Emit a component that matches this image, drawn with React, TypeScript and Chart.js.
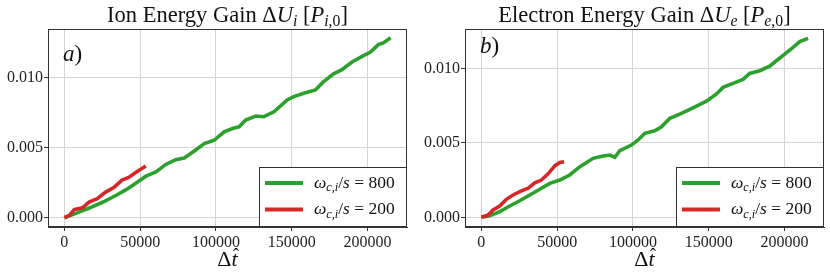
import React, { useEffect, useRef } from "react";
import { Chart, registerables } from "chart.js";

Chart.register(...registerables);

// ---------- data ----------
const xTicks = [0, 50000, 100000, 150000, 200000];
const yTicks = [0, 0.005, 0.01];

const ionX800 = [0, 8000, 16800, 25500, 34200, 40800, 47300, 53800, 60400, 66900, 73400, 79000, 85700, 92300, 98800, 105400, 110900, 115200, 119600, 126200, 131600, 138200, 147000, 151300, 157900, 165600, 171000, 177600, 183100, 189700, 197300, 201700, 207100, 210400, 215200];
const ionY800 = [0, 0.00033, 0.00071, 0.00112, 0.0016, 0.002, 0.00248, 0.00296, 0.00326, 0.0038, 0.00414, 0.00425, 0.00476, 0.00528, 0.00552, 0.00612, 0.00636, 0.00648, 0.00696, 0.00725, 0.0072, 0.00755, 0.00839, 0.00863, 0.00887, 0.00911, 0.0097, 0.01026, 0.01055, 0.0111, 0.01155, 0.01179, 0.01234, 0.01246, 0.01282];
const ionX200 = [0, 3300, 6500, 11900, 16300, 21700, 27200, 32600, 38000, 42400, 47800, 53700];
const ionY200 = [0, 0.00017, 0.00058, 0.00071, 0.00112, 0.00136, 0.00183, 0.00215, 0.00268, 0.00287, 0.00327, 0.00368];

const elX800 = [0, 5500, 12100, 18700, 25300, 31900, 38500, 45100, 51700, 58300, 65000, 73700, 80300, 84700, 88000, 91300, 99000, 103400, 107800, 114400, 118800, 124300, 130900, 137500, 141900, 148500, 155100, 159400, 166000, 172600, 177000, 183600, 190200, 194600, 200100, 205600, 210000, 215500];
const elY800 = [0, 0.0001, 0.00038, 0.00076, 0.00111, 0.0015, 0.00188, 0.00228, 0.0025, 0.00284, 0.0034, 0.00396, 0.00411, 0.00418, 0.00403, 0.00447, 0.00485, 0.00519, 0.00564, 0.00581, 0.00608, 0.00664, 0.00693, 0.00725, 0.00747, 0.0078, 0.00828, 0.00872, 0.00899, 0.00926, 0.00966, 0.00984, 0.01015, 0.01051, 0.01096, 0.01141, 0.01179, 0.01201];
const elX200 = [0, 4400, 7700, 12100, 16500, 20900, 25300, 30800, 35200, 39600, 44000, 46200, 48400, 51700, 54600];
const elY200 = [0, 0.00015, 0.00049, 0.00076, 0.00121, 0.0015, 0.00172, 0.00195, 0.00232, 0.0025, 0.00292, 0.00318, 0.00345, 0.00368, 0.00373];

const legendValues = ["800", "200"];
const GREEN = "#2ca02c";
const RED = "#d62728";
const FAMILY = "'Liberation Serif', 'DejaVu Serif', serif";

type Seg = { t: string; i?: boolean; s?: boolean };

function richWidth(ctx: CanvasRenderingContext2D, segs: Seg[], size: number) {
  let w = 0;
  for (const sg of segs) {
    ctx.font = `${sg.i ? "italic " : ""}${sg.s ? size * 0.7 : size}px ${FAMILY}`;
    w += ctx.measureText(sg.t).width;
  }
  return w;
}

function drawRich(ctx: CanvasRenderingContext2D, segs: Seg[], x: number, y: number, size: number, align: "left" | "center") {
  const w = richWidth(ctx, segs, size);
  let cx = align === "center" ? x - w / 2 : x;
  ctx.textBaseline = "alphabetic";
  ctx.textAlign = "left";
  for (const sg of segs) {
    ctx.font = `${sg.i ? "italic " : ""}${sg.s ? size * 0.7 : size}px ${FAMILY}`;
    ctx.fillText(sg.t, cx, y + (sg.s ? size * 0.2 : 0));
    cx += ctx.measureText(sg.t).width;
  }
}

function pts(xs: number[], ys: number[]) {
  return xs.map((x, k) => ({ x, y: ys[k] }));
}

type PanelCfg = {
  title: Seg[];
  label: string;
  labelBaseline: number;
  s800: { x: number; y: number }[];
  s200: { x: number; y: number }[];
  yMin: number;
  yMax: number;
  yAxisWidth: number;
  padRight: number;
};

function Panel({ cfg, left }: { cfg: PanelCfg; left: number }) {
  const ref = useRef<HTMLCanvasElement | null>(null);
  useEffect(() => {
    const canvas = ref.current!;
    const overlay = {
      id: "overlay",
      afterDraw(chart: any) {
        const ctx: CanvasRenderingContext2D = chart.ctx;
        const a = chart.chartArea;
        ctx.save();
        // frame
        ctx.strokeStyle = "#333";
        ctx.lineWidth = 1;
        ctx.strokeRect(a.left + 0.5, a.top + 0.5, a.right - a.left - 1, a.bottom - a.top - 1);
        ctx.fillStyle = "#111";
        // title
        drawRich(ctx, cfg.title, (a.left + a.right) / 2, 21.5, 22.5, "center");
        // panel label
        drawRich(ctx, [{ t: cfg.label, i: true }, { t: ")" }], a.left + 15, cfg.labelBaseline, 23, "left");
        // x label
        const xl: Seg[] = [{ t: "Δ" }, { t: "t", i: true }];
        const xc = (a.left + a.right) / 2;
        const w = richWidth(ctx, xl, 22);
        drawRich(ctx, xl, xc, 266, 22, "center");
        ctx.font = `italic 22px ${FAMILY}`;
        const tw = ctx.measureText("t").width;
        ctx.font = `18px ${FAMILY}`;
        ctx.textAlign = "center";
        ctx.fillText("ˆ", xc + w / 2 - tw / 2 + 1.5, 261);
        // legend
        const bw = 148, bh = 60;
        const bx = a.right - bw, by = a.bottom - bh;
        ctx.fillStyle = "rgba(255,255,255,0.95)";
        ctx.fillRect(bx, by, bw, bh);
        ctx.strokeStyle = "#333";
        ctx.strokeRect(bx + 0.5, by + 0.5, bw - 1, bh - 1);
        const cols = [GREEN, RED];
        legendValues.forEach((v, k) => {
          const ly = by + 16 + k * 26.5;
          ctx.strokeStyle = cols[k];
          ctx.lineWidth = 4;
          ctx.beginPath();
          ctx.moveTo(bx + 6, ly);
          ctx.lineTo(bx + 44, ly);
          ctx.stroke();
          ctx.fillStyle = "#111";
          drawRich(ctx, [
            { t: "ω", i: true },
            { t: "c,i", i: true, s: true },
            { t: "/" },
            { t: "s", i: true },
            { t: " = " + v },
          ], bx + 55, ly + 4.5, 17.5, "left");
        });
        ctx.restore();
      },
    };
    const setTicks = (vals: number[]) => (scale: any) => {
      scale.ticks = vals.map((v) => ({ value: v }));
    };
    const chart = new Chart(canvas, {
      type: "line",
      data: {
        datasets: [
          { label: "200", data: cfg.s200, borderColor: RED, backgroundColor: RED, borderWidth: 3.6, pointRadius: 0, order: 0, tension: 0, fill: false },
          { label: "800", data: cfg.s800, borderColor: GREEN, backgroundColor: GREEN, borderWidth: 3.6, pointRadius: 0, order: 1, tension: 0, fill: false },
        ],
      },
      options: {
        animation: false,
        responsive: false,
        devicePixelRatio: 1,
        parsing: false as any,
        layout: { padding: { top: 29, right: cfg.padRight, left: 0, bottom: 0 } },
        plugins: { legend: { display: false }, title: { display: false }, tooltip: { enabled: false } },
        scales: {
          x: {
            type: "linear",
            min: -10800,
            max: 226000,
            afterBuildTicks: setTicks(xTicks),
            afterFit: (s: any) => { s.height = 50; },
            grid: { color: "#d4d4d4", lineWidth: 1, drawTicks: true, tickLength: 4, tickColor: "#333" },
            border: { display: true, color: "#333", width: 1 },
            ticks: { color: "#222", font: { family: FAMILY, size: 16 }, padding: 2, maxRotation: 0, autoSkip: false, callback: (v: any) => String(v) },
          },
          y: {
            type: "linear",
            min: cfg.yMin,
            max: cfg.yMax,
            afterBuildTicks: setTicks(yTicks),
            afterFit: (s: any) => { s.width = cfg.yAxisWidth; },
            grid: { color: "#d4d4d4", lineWidth: 1, drawTicks: true, tickLength: 4, tickColor: "#333" },
            border: { display: true, color: "#333", width: 1 },
            ticks: { color: "#222", font: { family: FAMILY, size: 16 }, padding: 1, autoSkip: false, callback: (v: any) => Number(v).toFixed(3) },
          },
        },
      } as any,
      plugins: [overlay],
    });
    return () => chart.destroy();
  }, []);
  return (
    <div style={{ position: "absolute", left, top: 0, width: 415, height: 277 }}>
      <canvas ref={ref} width={415} height={277} style={{ display: "block", width: 415, height: 277 }} />
    </div>
  );
}

const ionCfg: PanelCfg = {
  title: [
    { t: "Ion Energy Gain " }, { t: "Δ" }, { t: "U", i: true }, { t: "i", i: true, s: true },
    { t: " [" }, { t: "P", i: true }, { t: "i", i: true, s: true }, { t: ",0", s: true }, { t: "]" },
  ],
  label: "a",
  labelBaseline: 61,
  s800: pts(ionX800, ionY800),
  s200: pts(ionX200, ionY200),
  yMin: -0.00066,
  yMax: 0.01345,
  yAxisWidth: 48,
  padRight: 8,
};

const elCfg: PanelCfg = {
  title: [
    { t: "Electron Energy Gain " }, { t: "Δ" }, { t: "U", i: true }, { t: "e", i: true, s: true },
    { t: " [" }, { t: "P", i: true }, { t: "e", i: true, s: true }, { t: ",0", s: true }, { t: "]" },
  ],
  label: "b",
  labelBaseline: 53,
  s800: pts(elX800, elY800),
  s200: pts(elX200, elY200),
  yMin: -0.00065,
  yMax: 0.01264,
  yAxisWidth: 50,
  padRight: 6,
};

export default function App() {
  return (
    <div style={{ position: "absolute", left: 0, top: 0, width: 830, height: 277, background: "#fff" }}>
      <Panel cfg={ionCfg} left={0} />
      <Panel cfg={elCfg} left={415} />
    </div>
  );
}
